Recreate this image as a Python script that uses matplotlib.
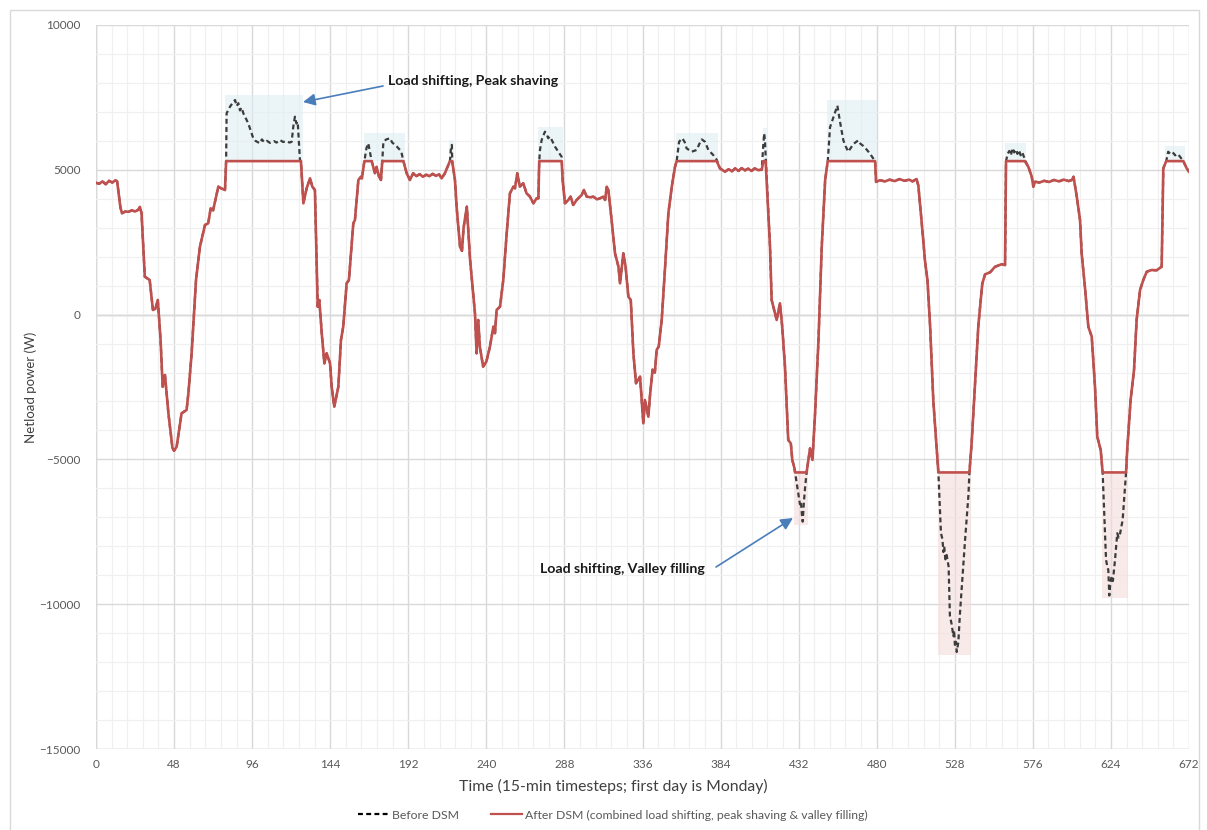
import numpy as np
import matplotlib
matplotlib.use('Agg')
import matplotlib.pyplot as plt
from matplotlib.patches import Rectangle
from matplotlib.lines import Line2D

plt.rcParams['font.family'] = ['Lato', 'DejaVu Sans']

# after DSM netload (timestep, W)
t_after = [0, 2, 4, 6, 8, 10, 12, 13, 15, 16, 18, 20, 22, 24, 26, 27, 28, 30, 33, 35, 36.5, 38, 39.7, 41, 42.4,
           44.5, 47, 48, 49.6, 52.6, 55.7, 56.8, 58.8, 61.5, 63.9, 67, 69, 70.5, 72, 75.2, 77.3, 79.3, 80, 126,
           127.5, 129.5, 131.6, 133, 134.6, 136.3, 137.3, 138.8, 140.4, 141.8, 143.9, 144.9, 146.5, 149, 150.6,
           152, 154.1, 155.5, 158.2, 159.2, 161.3, 163, 163.5, 165, 169.5, 171.5, 172.5, 174, 175.2, 176, 189,
           191, 193, 195, 197, 199, 201, 203, 205, 207, 209, 211, 212.5, 214.5, 217.6, 219, 220.7, 221.7, 223.8,
           225, 226, 228, 230, 233, 234, 235, 236, 238, 240, 242.2, 244.3, 245.3, 246.3, 248.4, 250.4, 252.5,
           254.5, 256.6, 257.6, 259, 260.6, 262.7, 264.7, 266.8, 268.9, 270.9, 272, 272.5, 286.3, 286.9, 288.3,
           290.4, 291.8, 293.4, 295.5, 298.6, 300, 301.7, 304, 305.8, 308, 309.9, 311.9, 313, 314, 315, 317,
           319.1, 321.2, 322.2, 324.2, 325.6, 327.3, 328.8, 330.4, 332, 334.5, 336.5, 337.5, 339.6, 340.6,
           342.2, 343.6, 344.7, 346, 347.8, 349.9, 351.9, 354, 356, 357, 381.6, 383.6, 386.7, 389, 391, 393,
           395, 397, 399, 401, 403, 405, 407, 409.3, 410.3, 411.7, 414.4, 415.4, 417.5, 418.5, 420.5, 421.9,
           423.6, 425.6, 427.2, 428.1, 429.4, 429.8, 436.9, 439, 440.5, 442.1, 444.2, 446.2, 448.3, 449.9, 479,
           479.6, 482, 485, 488, 491, 494, 497, 500, 502, 504.5, 505.6, 507.7, 509.7, 511.2, 512.8, 514.8,
           517.9, 537, 538.4, 540.4, 542.5, 544.9, 546.6, 549.7, 552.7, 556.8, 558.9, 559.5, 571, 573.2,
           575.3, 576.3, 577.3, 580, 583, 586, 589, 592, 595, 598, 600, 601, 603, 605, 606, 608, 610.1, 612.2,
           614.2, 615.6, 617.7, 618.9, 633.3, 634, 636.1, 638.2, 639.8, 641.9, 643.9, 646, 649, 652.1, 655.2,
           656.2, 658, 668.5, 670.6, 672]
p_after = [4550, 4520, 4600, 4500, 4620, 4560, 4640, 4600, 3700, 3500, 3560, 3550, 3600, 3560, 3620, 3720, 3500,
           1310, 1195, 160, 200, 504, -877, -2490, -2086, -3400, -4606, -4700, -4560, -3410, -3294, -2717, -1336,
           1195, 2345, 3094, 3153, 3671, 3600, 4417, 4350, 4300, 5300, 5300, 3843, 4360, 4706, 4417, 4300, 273,
           504, -646, -1682, -1336, -1682, -2490, -3180, -2490, -877, -418, 1080, 1195, 3153, 3267, 4648, 4763,
           4706, 5300, 5300, 4880, 5100, 4763, 4648, 5300, 5300, 4880, 4648, 4880, 4780, 4850, 4760, 4830, 4780,
           4860, 4790, 4840, 4706, 4880, 5300, 5300, 4648, 3727, 2345, 2200, 3000, 3727, 1886, 45, -1336, -186,
           -1106, -1796, -1624, -1106, -418, -646, 160, 273, 1195, 2806, 4188, 4417, 4360, 4880, 4417, 4533,
           4188, 4073, 3843, 4015, 4015, 5300, 5300, 4648, 3843, 3958, 4073, 3785, 3958, 4130, 4303, 4073, 4050,
           4073, 3980, 4015, 4073, 3958, 4417, 4300, 3267, 2115, 1655, 1080, 2115, 1655, 618, 504, -1336, -2372,
           -2144, -3754, -2950, -3525, -2800, -1900, -2000, -1220, -1100, -186, 1655, 3498, 4417, 5107, 5300,
           5300, 5050, 4935, 5020, 4950, 5050, 4960, 5060, 4980, 5040, 4960, 5050, 4990, 5000, 5300, 5300, 2345,
           504, 45, -186, 390, -418, -1796, -4330, -4450, -5020, -5300, -5450, -5450, -4620, -5020, -3410, -877,
           2345, 4648, 5300, 5300, 4582, 4640, 4600, 4660, 4610, 4680, 4620, 4660, 4600, 4680, 4450, 3150, 1850,
           1195, -370, -2976, -5450, -5450, -4410, -2455, -370, 1065, 1390, 1460, 1650, 1740, 1710, 5300, 5300,
           5107, 4763, 4417, 4590, 4560, 4620, 4580, 4650, 4600, 4660, 4610, 4650, 4760, 4073, 3267, 2115, 964,
           -418, -763, -2490, -4215, -4675, -5450, -5450, -4675, -2950, -1910, -186, 850, 1195, 1480, 1540, 1530,
           1655, 5050, 5300, 5300, 5050, 4935]

# before DSM, only where it differs from after DSM
mon_peak_t = [80, 80.3, 82.4, 84.5, 85.5, 86.5, 87.5, 88.5, 89.5, 90.6, 93.6, 96.7, 98, 100.8, 102, 103.5, 105,
              107, 109.5, 111, 113.1, 115, 117, 119, 120.3, 121.3, 122.3, 123.2, 124, 125.4, 126]
mon_peak_p = [5300, 6950, 7180, 7350, 7410, 7200, 7300, 7050, 7150, 6950, 6606, 6088, 6000, 5915, 6050, 5950, 6000,
              5930, 5990, 5940, 6030, 5960, 5990, 5940, 5970, 6490, 6834, 6600, 6660, 5340, 5300]
tue_peak_t = [165, 166.3, 167.4, 168.5, 169.5, 171.5, 172.5, 174, 175.2, 176, 176.7, 178.5, 180.8, 182, 183.8,
              185, 186.9, 188, 189]
tue_peak_p = [5300, 5750, 5915, 5600, 5300, 4880, 5100, 4763, 4648, 5300, 5970, 6050, 6090, 5950, 5860, 5800, 5684,
              5550, 5300]
tue_spike_t = [217.6, 218.3, 218.8, 219]
tue_spike_p = [5300, 5800, 5860, 5300]
wed_peak_t = [272.5, 273, 274, 276, 277, 278, 279, 280.2, 282.2, 284.2, 286.3]
wed_peak_p = [5300, 5700, 6030, 6315, 6250, 6090, 6150, 6030, 5800, 5625, 5450]
thu_peak_t = [357, 358.5, 360.5, 362, 363.1, 366.2, 369.3, 371, 372.4, 374.4, 376.5, 379.5, 381.6]
thu_peak_p = [5300, 5970, 6088, 5950, 5742, 5625, 5684, 5900, 6050, 5970, 5684, 5510, 5350]
thu_spike_t = [410.3, 410.8, 411.3, 411.7]
thu_spike_p = [5900, 6260, 6000, 5500]
thu_valley_t = [429.8, 431, 432, 432.8, 433.4, 434, 434.5, 435.2, 436, 436.9]
thu_valley_p = [-5450, -5900, -6300, -6550, -6450, -6900, -7150, -6500, -5950, -5450]
fri_peak_t = [449.9, 451.3, 453.3, 454.5, 455.8, 457.4, 459.5, 461, 462.5, 464, 465.6, 467, 468.7, 470, 471.8,
              473.8, 475.8, 477.5, 479]
fri_peak_p = [5300, 6470, 6800, 7000, 7215, 6670, 6015, 5800, 5625, 5750, 5885, 5950, 6015, 5900, 5820, 5700, 5560,
              5420, 5300]
sat_valley_t = [517.9, 519.5, 520.4, 521, 521.5, 522.2, 523, 524.2, 525, 526.1, 527.1, 527.6, 528.1, 528.7, 529.2,
                530.2, 531.2, 532.2, 534.3, 536.4, 537]
sat_valley_p = [-5450, -7550, -7750, -8200, -8000, -8450, -8300, -8700, -10400, -10700, -11100, -10900, -11450,
                -11300, -11650, -11300, -10300, -9500, -7800, -6230, -5450]
sat_peak_t = [559.5, 560.5, 561.5, 562.5, 563.5, 564.5, 565.5, 566.5, 567.5, 568.5, 569.5, 570.5, 571]
sat_peak_p = [5300, 5550, 5650, 5500, 5750, 5600, 5700, 5550, 5680, 5500, 5600, 5450, 5350]
sun_valley_t = [618.9, 619.9, 621, 621.8, 622.4, 623, 623.6, 624.4, 625.2, 626.5, 627.9, 628.7, 629.5, 631.2, 633.3]
sun_valley_p = [-5450, -6865, -8475, -8700, -8820, -9700, -9280, -9050, -9200, -8475, -7550, -7700, -7600, -7090,
                -5450]
sun_peak_t = [658, 659.2, 660.5, 662, 663.5, 665, 666.5, 668.5]
sun_peak_p = [5300, 5625, 5550, 5600, 5500, 5550, 5450, 5300]

peak_cap = 5300
valley_cap = -5450

windows = [(mon_peak_t, mon_peak_p), (tue_peak_t, tue_peak_p), (tue_spike_t, tue_spike_p),
           (wed_peak_t, wed_peak_p), (thu_peak_t, thu_peak_p), (thu_spike_t, thu_spike_p),
           (thu_valley_t, thu_valley_p), (fri_peak_t, fri_peak_p), (sat_valley_t, sat_valley_p),
           (sat_peak_t, sat_peak_p), (sun_valley_t, sun_valley_p), (sun_peak_t, sun_peak_p)]

# build the before series: after values outside the windows, window values inside
t_after = np.array(t_after, dtype=float)
p_after = np.array(p_after, dtype=float)
keep = np.ones(len(t_after), dtype=bool)
for wt, wp in windows:
    keep &= ~((t_after >= wt[0]) & (t_after <= wt[-1]))
t_before = np.concatenate([t_after[keep]] + [np.array(wt, float) for wt, _ in windows])
p_before = np.concatenate([p_after[keep]] + [np.array(wp, float) for _, wp in windows])
order = np.argsort(t_before, kind='stable')
t_before, p_before = t_before[order], p_before[order]

fig = plt.figure(figsize=(12.07, 8.30), dpi=100)
ax = fig.add_axes([96 / 1207, 1 - 749 / 830, (1189 - 96) / 1207, (749 - 25) / 830])

# outer chart frame
fig.patches.append(Rectangle((10 / 1207, -0.05), 1189 / 1207, 1 - 10 / 830 + 0.05,
                             transform=fig.transFigure, fill=False, edgecolor='#d9d9d9', lw=1))

# shaded boxes around the shaved / filled areas
for wt, wp in windows:
    if max(wp) > peak_cap:
        ax.add_patch(Rectangle((wt[0] - 0.5, peak_cap), wt[-1] - wt[0] + 1.5, max(wp) + 180 - peak_cap,
                               facecolor='#dcedf3', alpha=0.55, edgecolor='none', zorder=1))
    else:
        ax.add_patch(Rectangle((wt[0] - 0.5, min(wp) - 100), wt[-1] - wt[0] + 1.5, valley_cap - min(wp) + 100,
                               facecolor='#f2dcdb', alpha=0.6, edgecolor='none', zorder=1))

ax.plot(t_before, p_before, color='#3c3c3c', lw=1.6, ls=(0, (2.2, 1.5)), zorder=3)
ax.plot(t_after, p_after, color='#c0504d', lw=1.9, zorder=4)

ax.set_xlim(0, 672)
ax.set_ylim(-15000, 10000)
ax.set_xticks(range(0, 673, 48))
ax.set_xticks(np.arange(0, 672.1, 9.6), minor=True)
ax.set_yticks(range(-15000, 10001, 5000))
ax.set_yticks(range(-15000, 10001, 1000), minor=True)
ax.grid(which='major', color='#d9d9d9', lw=1.0, zorder=0)
ax.grid(which='minor', color='#f0f0f0', lw=0.9, zorder=0)
ax.axhline(0, color='#c8c8c8', lw=1.0, zorder=0.5)
ax.set_axisbelow(True)
for s in ax.spines.values():
    s.set_visible(False)
ax.axvline(0, color='#d0d0d0', lw=1.0, zorder=0.5)
ax.axhline(-15000, color='#d0d0d0', lw=1.0, zorder=0.5)
ax.tick_params(which='both', length=0, colors='#595959', labelsize=8.5)
ax.tick_params(axis='y', pad=11)
ax.tick_params(axis='x', pad=7)

ax.set_xlabel('Time (15-min timesteps; first day is Monday)', fontsize=11.3, color='#404040')
ax.xaxis.set_label_coords((613 - 96) / 1093, -(779 - 749) / 724, transform=ax.transAxes)
ax.set_ylabel('Netload power (W)', fontsize=9.5, color='#404040')
ax.yaxis.set_label_coords(-(96 - 37) / 1093, 0.5, transform=ax.transAxes)

arrow = dict(arrowstyle='-|>', color='#4a7ebb', lw=1.2, mutation_scale=18, shrinkA=0, shrinkB=0)
ax.text(179.5, 8066, 'Load shifting, Peak shaving', fontsize=10.2, fontweight='bold', color='#1a1a1a',
        va='center', ha='left')
ax.annotate('', xy=(127.3, 7340), xytext=(176.5, 7894), arrowprops=arrow)
ax.text(273, -8785, 'Load shifting, Valley filling', fontsize=10.2, fontweight='bold', color='#1a1a1a',
        va='center', ha='left')
ax.annotate('', xy=(428.5, -7024), xytext=(381.2, -8716), arrowprops=arrow)

handles = [Line2D([], [], color='black', lw=1.6, ls=(0, (2.2, 1.5))),
           Line2D([], [], color='#c0504d', lw=1.6)]
fig.legend(handles, ['Before DSM', 'After DSM (combined load shifting, peak shaving & valley filling)'],
           loc='center', bbox_to_anchor=(613 / 1207, 1 - 815 / 830), ncol=2, frameon=False, fontsize=8.8,
           handlelength=2.5, handletextpad=0.3, columnspacing=2.6, labelcolor='#595959')

fig.savefig('out.png', dpi=100)
